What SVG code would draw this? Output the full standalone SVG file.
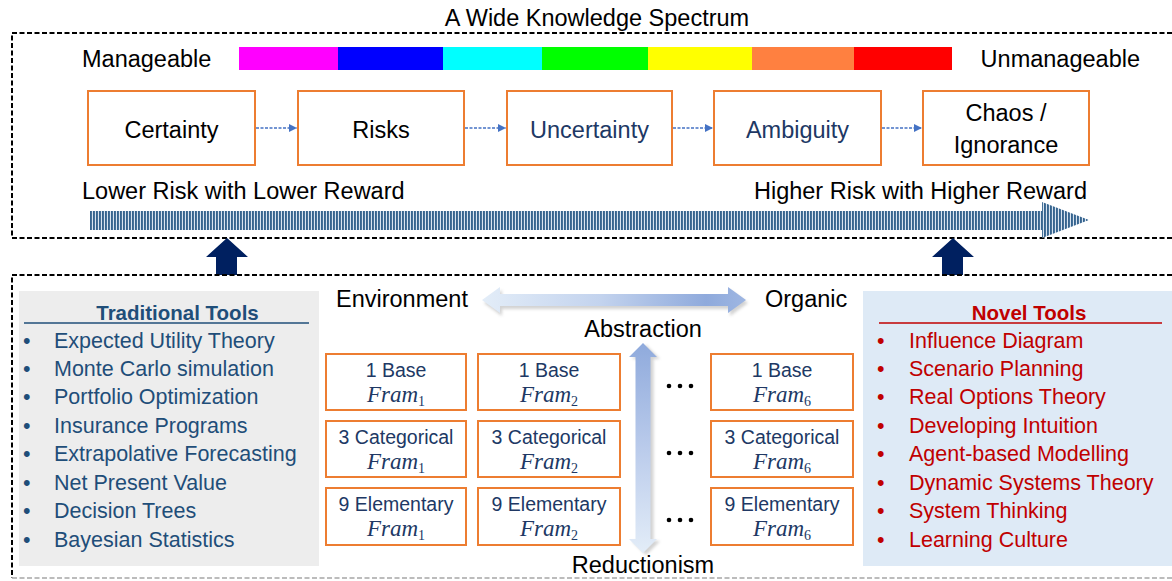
<svg xmlns="http://www.w3.org/2000/svg" width="1172" height="581" viewBox="0 0 1172 581">
<defs>
<style>
text{font-family:"Liberation Sans",Arial,sans-serif;}
.t{font-size:23.5px;fill:#000;}
.pbox{fill:#fff;stroke:#ED7D31;stroke-width:2;}
.ptxt{font-size:23.5px;text-anchor:middle;}
.fbox{fill:#fff;stroke:#ED7D31;stroke-width:2;}
.ftxt{font-size:19.5px;fill:#203864;text-anchor:middle;}
.fram{font-family:"Liberation Serif","Times New Roman",serif;font-style:italic;font-size:23px;fill:#203864;text-anchor:middle;}
.sub{font-size:14px;font-style:normal;}
.li{font-size:21.5px;fill:#1F4E79;}
.ri{font-size:21.5px;fill:#C00000;}
.conn{stroke:#4472C4;stroke-width:1.5;stroke-dasharray:3 1.5;fill:none;}
.dash{fill:none;stroke:#000;stroke-width:2;stroke-dasharray:5 2.5;}
.navy{fill:#002060;}
</style>
<marker id="ah" viewBox="0 0 10 10" refX="10" refY="5" markerWidth="8" markerHeight="8" markerUnits="userSpaceOnUse" orient="auto">
<path d="M0,0 L10,5 L0,10 Z" fill="#4472C4"/>
</marker>
<pattern id="stripes" width="3" height="10" patternUnits="userSpaceOnUse">
<rect width="3" height="10" fill="#D9E4F0"/>
<rect width="1.9" height="10" fill="#36648F"/>
</pattern>
<linearGradient id="gh" x1="0" y1="0" x2="1" y2="0">
<stop offset="0" stop-color="#E3EDF8"/>
<stop offset="0.45" stop-color="#C3D3EE"/>
<stop offset="0.85" stop-color="#8FAADC"/>
<stop offset="1" stop-color="#9EB6E2"/>
</linearGradient>
<linearGradient id="gv" x1="0" y1="0" x2="0" y2="1">
<stop offset="0" stop-color="#8FAADC"/>
<stop offset="0.5" stop-color="#BACBEB"/>
<stop offset="1" stop-color="#E3EDF8"/>
</linearGradient>
<filter id="sh" x="-10%" y="-10%" width="130%" height="130%">
<feGaussianBlur stdDeviation="1.5"/>
</filter>
</defs>

<rect width="1172" height="581" fill="#fff"/>

<g id="spectrum-frame">
<path class="dash" d="M1172,33 H12 V238 H1172"/>
<text x="597" y="26" class="t" text-anchor="middle">A Wide Knowledge Spectrum</text>
<text x="82" y="67" class="t">Manageable</text>
<text x="1140" y="67" class="t" text-anchor="end">Unmanageable</text>
</g>

<g id="color-bar">
<rect x="239" y="47" width="99" height="23" fill="#FF00FF"/>
<rect x="338" y="47" width="105" height="23" fill="#0000FF"/>
<rect x="443" y="47" width="99" height="23" fill="#00FFFF"/>
<rect x="542" y="47" width="106" height="23" fill="#00FF00"/>
<rect x="648" y="47" width="104" height="23" fill="#FFFF00"/>
<rect x="752" y="47" width="102" height="23" fill="#FF8040"/>
<rect x="854" y="47" width="98" height="23" fill="#FF0000"/>
</g>

<g id="certainty"><rect class="pbox" x="88" y="91" width="167" height="74"/><text class="ptxt" x="171.5" y="138">Certainty</text></g>
<g id="risks"><rect class="pbox" x="298" y="91" width="166" height="74"/><text class="ptxt" x="381" y="138">Risks</text></g>
<g id="uncertainty"><rect class="pbox" x="507" y="91" width="165" height="74"/><text class="ptxt" x="589.5" y="138" fill="#203864">Uncertainty</text></g>
<g id="ambiguity"><rect class="pbox" x="714" y="91" width="167" height="74"/><text class="ptxt" x="797.5" y="138" fill="#203864">Ambiguity</text></g>
<g id="chaos"><rect class="pbox" x="923" y="91" width="166" height="74"/><text class="ptxt" x="1006" y="121">Chaos /</text><text class="ptxt" x="1006" y="153">Ignorance</text></g>

<g id="connectors">
<line class="conn" x1="256" y1="128" x2="297" y2="128" marker-end="url(#ah)"/>
<line class="conn" x1="465" y1="128" x2="506" y2="128" marker-end="url(#ah)"/>
<line class="conn" x1="673" y1="128" x2="713" y2="128" marker-end="url(#ah)"/>
<line class="conn" x1="882" y1="128" x2="922" y2="128" marker-end="url(#ah)"/>
</g>

<g id="risk-reward">
<text x="82" y="199" class="t">Lower Risk with Lower Reward</text>
<text x="1087" y="199" class="t" text-anchor="end">Higher Risk with Higher Reward</text>
<path d="M90,211 H1042 V202 L1089,220 L1042,238 V230 H90 Z" fill="url(#stripes)"/>
</g>

<g id="up-arrows">
<path class="navy" d="M227,238 L248,257 H237 V275 H216 V257 H206 Z"/>
<path class="navy" d="M953,238 L974,257 H963 V275 H942 V257 H932 Z"/>
</g>

<g id="tools-frame">
<path class="dash" d="M1172,275 H12 V578"/>
<line x1="12" y1="578" x2="1172" y2="578" stroke="#A6A6A6" stroke-width="1.5" stroke-dasharray="5 2.5"/>
</g>

<g id="traditional-tools">
<rect x="19" y="291" width="300" height="275" fill="#EDEDED"/>
<text x="177.5" y="320" font-size="20.5" font-weight="bold" fill="#1F4E79" text-anchor="middle">Traditional Tools</text>
<line x1="24" y1="323" x2="309" y2="323" stroke="#1F4E79" stroke-width="1.3"/>
<g class="li">
<text x="23" y="348">•</text><text x="54" y="348">Expected Utility Theory</text>
<text x="23" y="376">•</text><text x="54" y="376">Monte Carlo simulation</text>
<text x="23" y="404">•</text><text x="54" y="404">Portfolio Optimization</text>
<text x="23" y="433">•</text><text x="54" y="433">Insurance Programs</text>
<text x="23" y="461">•</text><text x="54" y="461">Extrapolative Forecasting</text>
<text x="23" y="490">•</text><text x="54" y="490">Net Present Value</text>
<text x="23" y="518">•</text><text x="54" y="518">Decision Trees</text>
<text x="23" y="547">•</text><text x="54" y="547">Bayesian Statistics</text>
</g>
</g>

<g id="novel-tools">
<rect x="863" y="291" width="309" height="275" fill="#DEEAF6"/>
<text x="1029" y="320" font-size="20.5" font-weight="bold" fill="#C00000" text-anchor="middle">Novel Tools</text>
<line x1="879" y1="323" x2="1162" y2="323" stroke="#C00000" stroke-width="1.3"/>
<g class="ri">
<text x="877" y="348">•</text><text x="909" y="348">Influence Diagram</text>
<text x="877" y="376">•</text><text x="909" y="376">Scenario Planning</text>
<text x="877" y="404">•</text><text x="909" y="404">Real Options Theory</text>
<text x="877" y="433">•</text><text x="909" y="433">Developing Intuition</text>
<text x="877" y="461">•</text><text x="909" y="461">Agent-based Modelling</text>
<text x="877" y="490">•</text><text x="909" y="490">Dynamic Systems Theory</text>
<text x="877" y="518">•</text><text x="909" y="518">System Thinking</text>
<text x="877" y="547">•</text><text x="909" y="547">Learning Culture</text>
</g>
</g>

<g id="axes">
<text x="336" y="307" class="t">Environment</text>
<text x="765" y="307" class="t">Organic</text>
<path d="M482,300 L500,287 V294 H728 V287 L746,300 L728,313 V306 H500 V313 Z" fill="#7F7F7F" opacity="0.35" filter="url(#sh)" transform="translate(2,3)"/>
<path d="M482,300 L500,287 V294 H728 V287 L746,300 L728,313 V306 H500 V313 Z" fill="url(#gh)"/>
<text x="643" y="337" class="t" text-anchor="middle">Abstraction</text>
<path d="M643,343 L657,357 H650.5 V539 H657 L643,553 L629,539 H635.5 V357 H629 Z" fill="#7F7F7F" opacity="0.35" filter="url(#sh)" transform="translate(3,2)"/>
<path d="M643,343 L657,357 H650.5 V539 H657 L643,553 L629,539 H635.5 V357 H629 Z" fill="url(#gv)"/>
<text x="643" y="573" class="t" text-anchor="middle">Reductionism</text>
</g>

<g id="frame-1-base"><rect class="fbox" x="326" y="354" width="140" height="56"/><text class="ftxt" x="396" y="377">1 Base</text><text class="fram" x="396" y="402">Fram<tspan class="sub" dy="4">1</tspan></text></g>
<g id="frame-2-base"><rect class="fbox" x="478" y="354" width="142" height="56"/><text class="ftxt" x="549" y="377">1 Base</text><text class="fram" x="549" y="402">Fram<tspan class="sub" dy="4">2</tspan></text></g>
<g id="frame-6-base"><rect class="fbox" x="711" y="354" width="142" height="56"/><text class="ftxt" x="782" y="377">1 Base</text><text class="fram" x="782" y="402">Fram<tspan class="sub" dy="4">6</tspan></text></g>

<g id="frame-1-cat"><rect class="fbox" x="326" y="421" width="140" height="56"/><text class="ftxt" x="396" y="444">3 Categorical</text><text class="fram" x="396" y="469">Fram<tspan class="sub" dy="4">1</tspan></text></g>
<g id="frame-2-cat"><rect class="fbox" x="478" y="421" width="142" height="56"/><text class="ftxt" x="549" y="444">3 Categorical</text><text class="fram" x="549" y="469">Fram<tspan class="sub" dy="4">2</tspan></text></g>
<g id="frame-6-cat"><rect class="fbox" x="711" y="421" width="142" height="56"/><text class="ftxt" x="782" y="444">3 Categorical</text><text class="fram" x="782" y="469">Fram<tspan class="sub" dy="4">6</tspan></text></g>

<g id="frame-1-elem"><rect class="fbox" x="326" y="488" width="140" height="57"/><text class="ftxt" x="396" y="511">9 Elementary</text><text class="fram" x="396" y="536">Fram<tspan class="sub" dy="4">1</tspan></text></g>
<g id="frame-2-elem"><rect class="fbox" x="478" y="488" width="142" height="57"/><text class="ftxt" x="549" y="511">9 Elementary</text><text class="fram" x="549" y="536">Fram<tspan class="sub" dy="4">2</tspan></text></g>
<g id="frame-6-elem"><rect class="fbox" x="711" y="488" width="142" height="57"/><text class="ftxt" x="782" y="511">9 Elementary</text><text class="fram" x="782" y="536">Fram<tspan class="sub" dy="4">6</tspan></text></g>

<g id="ellipses" fill="#000">
<circle cx="669" cy="386" r="2.3"/><circle cx="680" cy="386" r="2.3"/><circle cx="691" cy="386" r="2.3"/>
<circle cx="669" cy="453" r="2.3"/><circle cx="680" cy="453" r="2.3"/><circle cx="691" cy="453" r="2.3"/>
<circle cx="669" cy="520" r="2.3"/><circle cx="680" cy="520" r="2.3"/><circle cx="691" cy="520" r="2.3"/>
</g>
</svg>
